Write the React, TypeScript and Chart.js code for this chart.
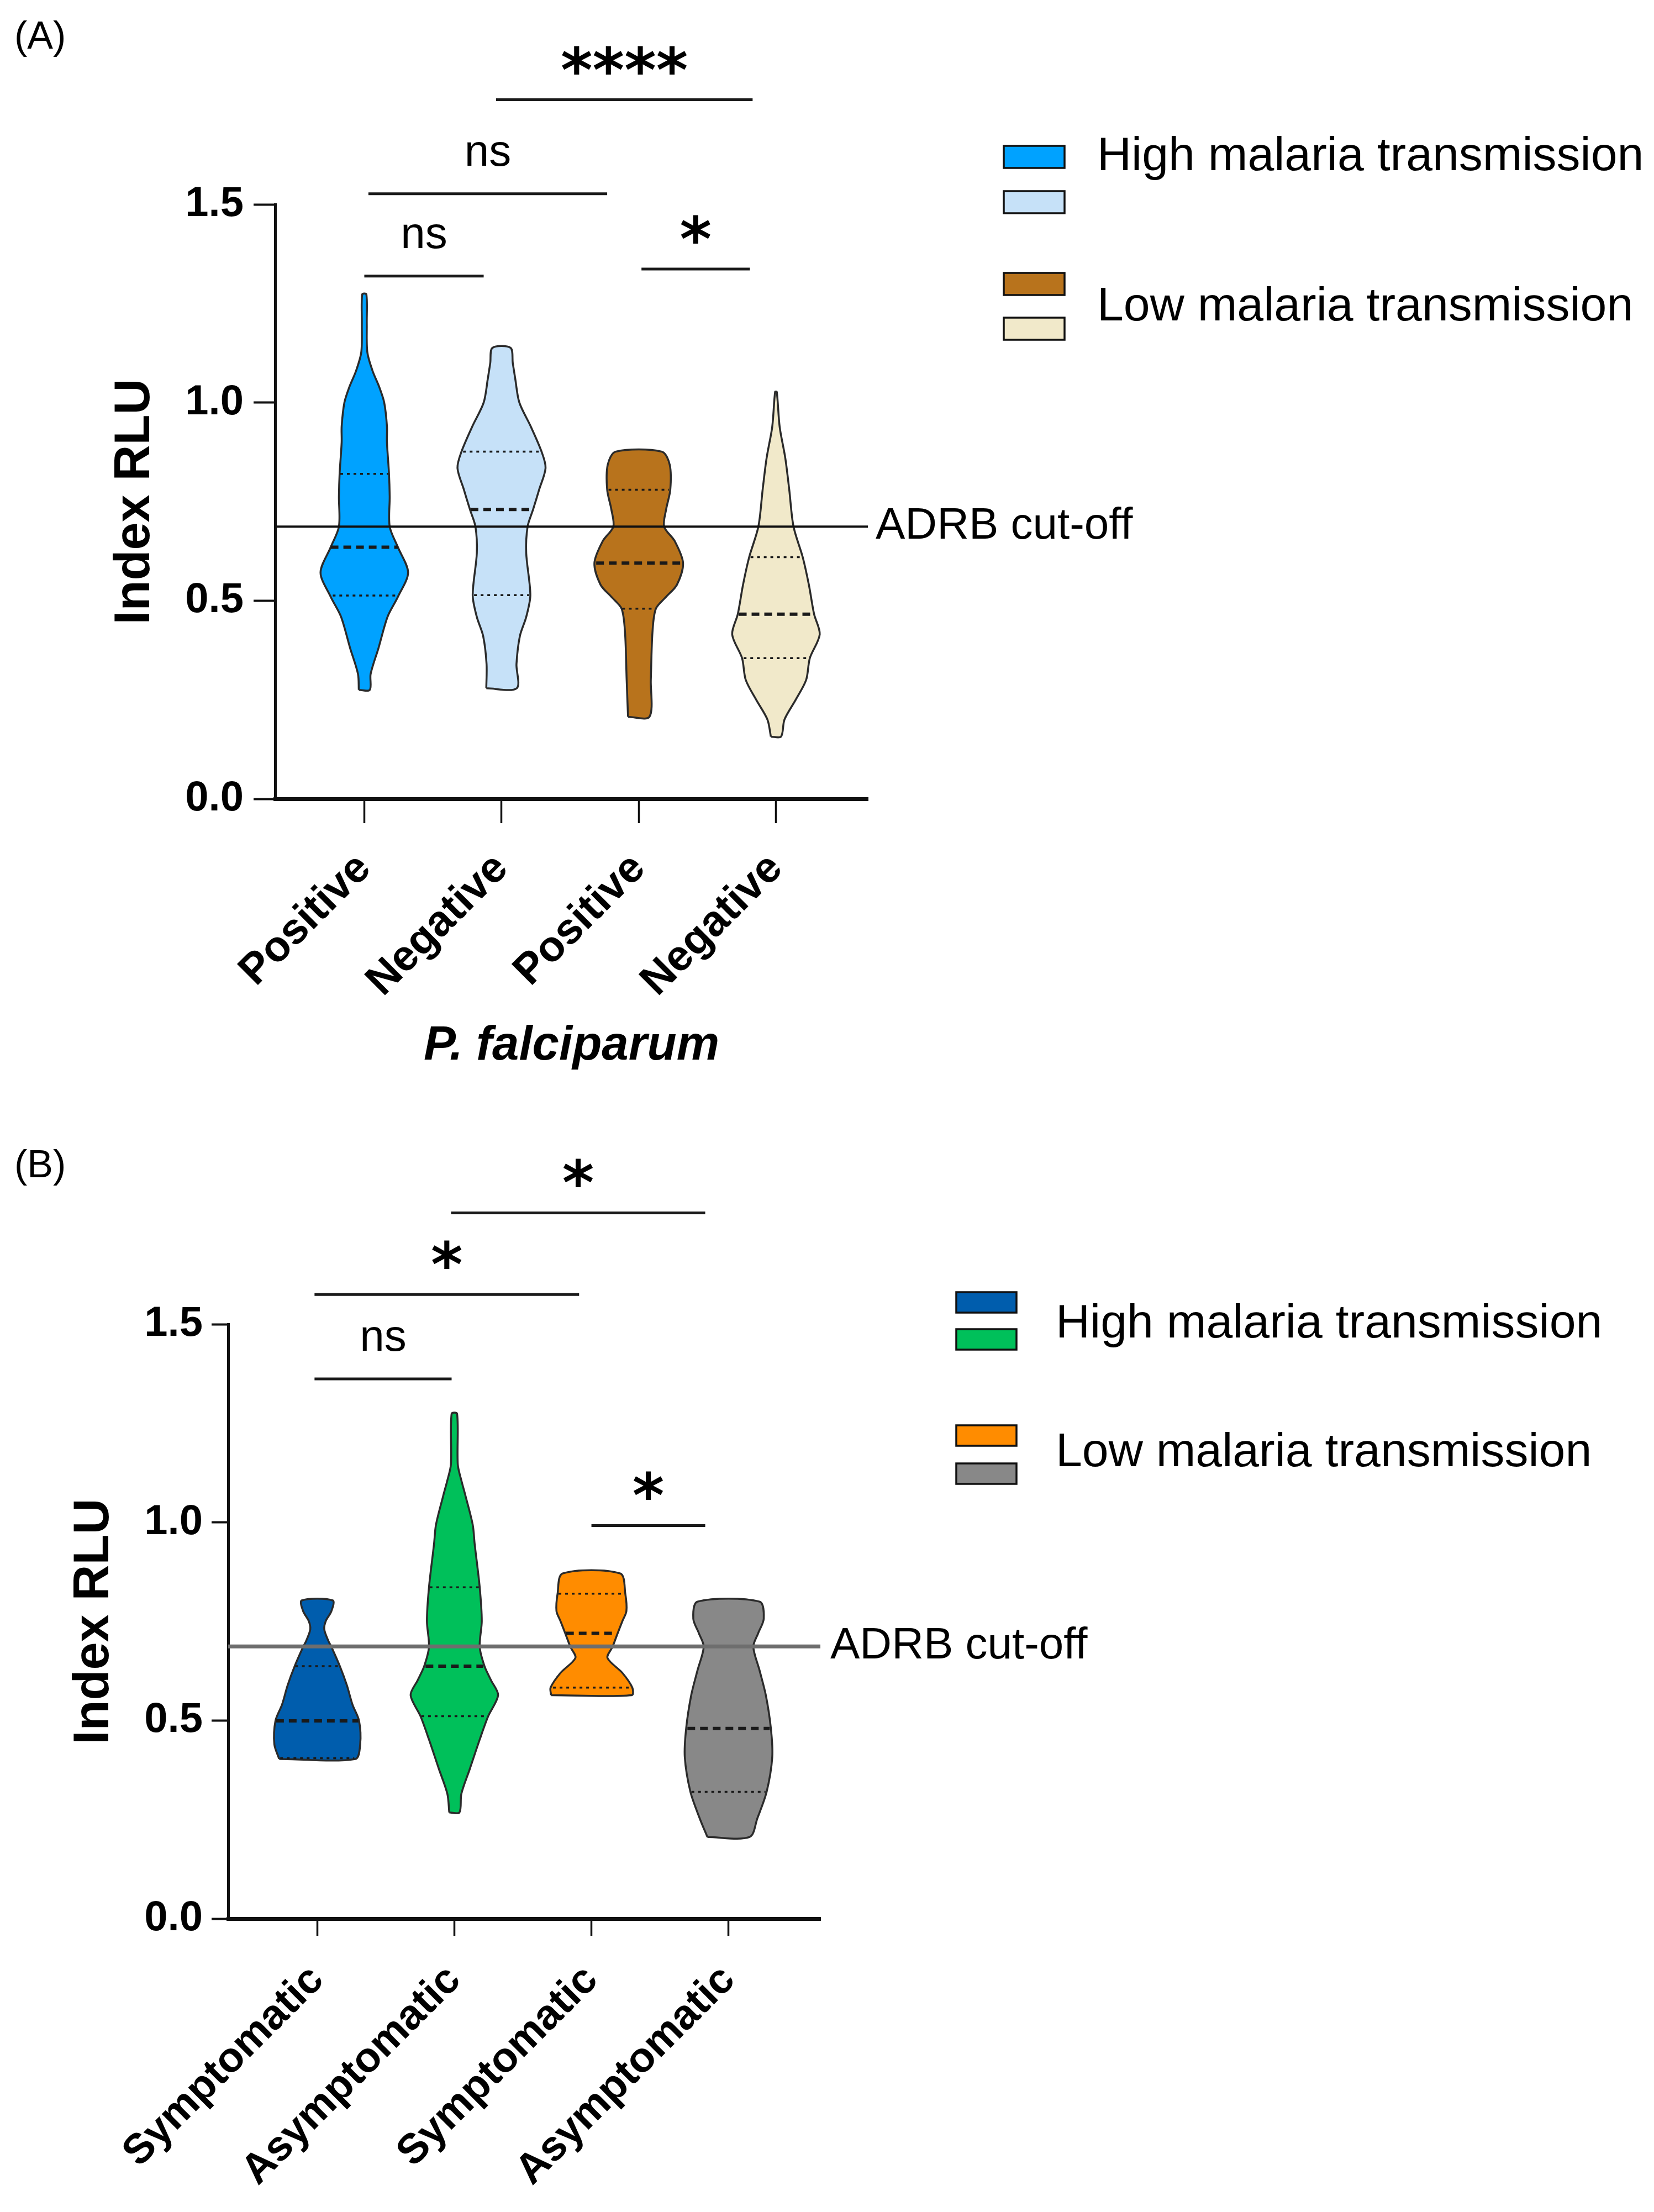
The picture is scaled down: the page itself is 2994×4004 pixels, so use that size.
import React, { useEffect, useRef } from 'react';
import { Chart, registerables } from 'chart.js';

Chart.register(...registerables);

const FONT = '"Liberation Sans", Arial, Helvetica, sans-serif';
const STAR_FONT = '"DejaVu Sans", sans-serif';

const X_MIN = 0.35;
const X_MAX = 4.67;
const CUTOFF = 0.687;
const yTickValues = [0, 0.5, 1.0, 1.5];
const legendLabels = ['High malaria transmission', 'Low malaria transmission'];

// ---------------- Panel A (P. falciparum) ----------------
const categoriesA = ['Positive', 'Negative', 'Positive', 'Negative'];
const colorsA = ['#00A2FF', '#C6E1F8', '#B8731C', '#F1E9CA'];

const aPosHighLevels = [0.275, 0.315, 0.38, 0.46, 0.51, 0.571, 0.635, 0.687, 0.763, 0.82, 0.9, 0.94, 1.0, 1.04, 1.08, 1.127, 1.2, 1.273];
const aPosHighHalf = [0.04, 0.046, 0.103, 0.17, 0.245, 0.319, 0.245, 0.185, 0.185, 0.18, 0.165, 0.165, 0.145, 0.108, 0.06, 0.022, 0.018, 0.015];

const aNegHighLevels = [0.279, 0.34, 0.411, 0.459, 0.514, 0.62, 0.687, 0.73, 0.78, 0.835, 0.876, 0.939, 1.0, 1.06, 1.1, 1.138];
const aNegHighHalf = [0.111, 0.109, 0.134, 0.18, 0.21, 0.18, 0.19, 0.23, 0.274, 0.321, 0.292, 0.214, 0.13, 0.1, 0.082, 0.066];

const aPosLowLevels = [0.207, 0.3, 0.42, 0.48, 0.51, 0.54, 0.595, 0.65, 0.687, 0.731, 0.78, 0.843, 0.876];
const aPosLowHalf = [0.078, 0.088, 0.1, 0.125, 0.2, 0.278, 0.323, 0.263, 0.185, 0.2, 0.23, 0.226, 0.169];

const aNegLowLevels = [0.157, 0.2, 0.25, 0.3, 0.355, 0.415, 0.466, 0.54, 0.61, 0.687, 0.78, 0.86, 0.939, 1.027];
const aNegLowHalf = [0.037, 0.062, 0.144, 0.22, 0.247, 0.319, 0.278, 0.24, 0.195, 0.128, 0.097, 0.068, 0.027, 0.006];

const q1A = [0.513, 0.514, 0.48, 0.355];
const q1HalfA = [0.23, 0.2, 0.12, 0.235];
const medianA = [0.635, 0.73, 0.595, 0.466];
const medianHalfA = [0.245, 0.225, 0.31, 0.27];
const q3A = [0.82, 0.876, 0.78, 0.61];
const q3HalfA = [0.175, 0.28, 0.22, 0.185];

const sigStartA = [1.96, 1.03, 1.0, 3.02];
const sigEndA = [3.83, 2.77, 1.87, 3.81];
const sigLevelA = [1.764, 1.527, 1.319, 1.337];
const sigLabelA = ['****', 'ns', 'ns', '*'];

// ---------------- Panel B (symptoms) ----------------
const categoriesB = ['Symptomatic', 'Asymptomatic', 'Symptomatic', 'Asymptomatic'];
const colorsB = ['#005DAD', '#00C05A', '#FF8C00', '#888888'];

const bSymHighLevels = [0.403, 0.44, 0.499, 0.54, 0.589, 0.637, 0.686, 0.7, 0.73, 0.751, 0.776, 0.803];
const bSymHighHalf = [0.278, 0.313, 0.305, 0.257, 0.216, 0.165, 0.103, 0.082, 0.051, 0.062, 0.103, 0.113];

const bAsyHighLevels = [0.268, 0.315, 0.378, 0.452, 0.511, 0.564, 0.602, 0.637, 0.686, 0.751, 0.836, 0.946, 0.994, 1.066, 1.106, 1.146, 1.274];
const bAsyHighHalf = [0.037, 0.051, 0.113, 0.185, 0.247, 0.319, 0.267, 0.22, 0.185, 0.2, 0.185, 0.148, 0.134, 0.082, 0.051, 0.025, 0.02];

const bSymLowLevels = [0.564, 0.583, 0.62, 0.658, 0.686, 0.72, 0.751, 0.776, 0.82, 0.871];
const bSymLowHalf = [0.294, 0.298, 0.226, 0.117, 0.154, 0.191, 0.226, 0.255, 0.247, 0.21];

const bAsyLowLevels = [0.206, 0.253, 0.32, 0.408, 0.48, 0.564, 0.627, 0.686, 0.72, 0.757, 0.8];
const bAsyLowHalf = [0.154, 0.21, 0.278, 0.319, 0.309, 0.272, 0.226, 0.181, 0.216, 0.257, 0.226];

const q1B = [0.405, 0.511, 0.583, 0.32];
const q1HalfB = [0.27, 0.24, 0.28, 0.27];
const medianB = [0.499, 0.637, 0.72, 0.48];
const medianHalfB = [0.3, 0.21, 0.185, 0.3];
const q3B = [0.637, 0.836, 0.82, 0.686];
const q3HalfB = [0.16, 0.18, 0.24, 0.17];

const sigStartB = [1.976, 0.98, 0.98, 3.0];
const sigEndB = [3.83, 2.91, 1.98, 3.83];
const sigLevelB = [1.781, 1.575, 1.362, 0.992];
const sigLabelB = ['*', '*', 'ns', '*'];

type Pt = { x: number; y: number };

function violinPolygon(center: number, levels: number[], half: number[]): Pt[] {
  const left = levels.map((y, i) => ({ x: center - half[i], y }));
  const right = levels.map((y, i) => ({ x: center + half[i], y })).reverse();
  return [...left, ...right, left[0]];
}

interface PanelSpec {
  top: number;
  height: number;
  label: string;
  labelY: number;
  categories: string[];
  colors: string[];
  levels: number[][];
  halves: number[][];
  q1: number[]; q1Half: number[];
  med: number[]; medHalf: number[];
  q3: number[]; q3Half: number[];
  sigStart: number[]; sigEnd: number[]; sigLevel: number[]; sigLabel: string[];
  cutoffColor: string; cutoffWidth: number; cutoffGap: number;
  yAxisWidth: number; xAxisHeight: number; padTop: number; padRight: number;
  yTitlePad: number; yTickLen: number; yTickPad: number;
  xTickLen: number; xTickPad: number; xTickSize: number;
  xTitle?: string;
  legendX: number; legendW: number; legendH: number; legendSwatchY: number[];
  legendTextX: number; legendTextY: number[];
}

function decorPlugin(spec: PanelSpec) {
  return {
    id: 'decor',
    afterDraw(chart: any) {
      const { ctx, chartArea } = chart;
      const xs = chart.scales.x;
      const ys = chart.scales.y;
      ctx.save();
      ctx.fillStyle = '#000';
      // cut-off label
      ctx.font = `80px ${FONT}`;
      ctx.textAlign = 'left';
      ctx.textBaseline = 'middle';
      ctx.fillText('ADRB cut-off', chartArea.right + spec.cutoffGap, ys.getPixelForValue(CUTOFF));

      // significance bars
      ctx.strokeStyle = '#1a1a1a';
      ctx.lineWidth = 5;
      spec.sigLabel.forEach((lab, i) => {
        const x1 = xs.getPixelForValue(spec.sigStart[i]);
        const x2 = xs.getPixelForValue(spec.sigEnd[i]);
        const y = ys.getPixelForValue(spec.sigLevel[i]);
        ctx.beginPath();
        ctx.moveTo(x1, y);
        ctx.lineTo(x2, y);
        ctx.stroke();
        const isStar = lab.includes('*');
        ctx.font = isStar ? `bold 110px ${STAR_FONT}` : `80px ${FONT}`;
        ctx.textAlign = 'center';
        ctx.textBaseline = 'alphabetic';
        const m = ctx.measureText(lab);
        const cy = y - 72;
        const base = cy + (m.actualBoundingBoxAscent - m.actualBoundingBoxDescent) / 2;
        ctx.fillText(lab, (x1 + x2) / 2, base);
      });

      // legend
      spec.legendSwatchY.forEach((y, i) => {
        ctx.fillStyle = spec.colors[i];
        ctx.fillRect(spec.legendX, y, spec.legendW, spec.legendH);
        ctx.strokeStyle = '#111';
        ctx.lineWidth = 3.5;
        ctx.strokeRect(spec.legendX, y, spec.legendW, spec.legendH);
      });
      ctx.fillStyle = '#000';
      ctx.font = `86px ${FONT}`;
      ctx.textAlign = 'left';
      ctx.textBaseline = 'middle';
      legendLabels.forEach((t, i) => ctx.fillText(t, spec.legendTextX, spec.legendTextY[i]));

      // panel label
      ctx.font = `70px ${FONT}`;
      ctx.fillText(spec.label, 26, spec.labelY);
      ctx.restore();
    },
  };
}

function Panel({ spec }: { spec: PanelSpec }) {
  const ref = useRef<HTMLCanvasElement>(null);
  useEffect(() => {
    const canvas = ref.current;
    if (!canvas) return;
    const datasets: any[] = [];
    spec.levels.forEach((lv, i) => {
      const c = i + 1;
      datasets.push({
        type: 'line',
        data: violinPolygon(c, lv, spec.halves[i]),
        backgroundColor: spec.colors[i],
        borderColor: '#2b2b2b',
        borderWidth: 3.5,
        fill: 'shape',
        tension: 0.3,
        pointRadius: 0,
        order: 3,
      });
      const qLine = (v: number, h: number, dash: number[], w: number) => ({
        type: 'line',
        data: [{ x: c - h, y: v }, { x: c + h, y: v }],
        borderColor: '#1a1a1a',
        borderWidth: w,
        borderDash: dash,
        fill: false,
        pointRadius: 0,
        order: 2,
      });
      datasets.push(qLine(spec.q1[i], spec.q1Half[i], [5, 7], 3.5));
      datasets.push(qLine(spec.q3[i], spec.q3Half[i], [5, 7], 3.5));
      datasets.push(qLine(spec.med[i], spec.medHalf[i], [14, 9], 6));
    });
    datasets.push({
      type: 'line',
      data: [{ x: X_MIN, y: CUTOFF }, { x: X_MAX, y: CUTOFF }],
      borderColor: spec.cutoffColor,
      borderWidth: spec.cutoffWidth,
      fill: false,
      pointRadius: 0,
      order: 1,
    });

    const chart = new Chart(canvas, {
      type: 'line',
      data: { datasets },
      options: {
        responsive: false,
        animation: false,
        devicePixelRatio: 1,
        events: [],
        layout: { padding: { left: 0, top: spec.padTop, right: spec.padRight, bottom: 0 } },
        plugins: { legend: { display: false }, tooltip: { enabled: false } },
        scales: {
          x: {
            type: 'linear',
            min: X_MIN,
            max: X_MAX,
            afterBuildTicks: (s: any) => {
              s.ticks = spec.categories.map((_, i) => ({ value: i + 1 }));
            },
            afterFit: (s: any) => {
              s.height = spec.xAxisHeight;
            },
            ticks: {
              autoSkip: false,
              minRotation: 45,
              maxRotation: 45,
              padding: spec.xTickPad,
              color: '#000',
              font: { family: FONT, size: spec.xTickSize, weight: 'bold' },
              callback: (v: any) => spec.categories[Math.round(Number(v)) - 1] ?? '',
            },
            grid: { drawOnChartArea: false, drawTicks: true, tickLength: spec.xTickLen, tickWidth: 3.5, tickColor: '#111' },
            border: { display: true, color: '#111', width: 7 },
            title: spec.xTitle
              ? {
                  display: true,
                  text: spec.xTitle,
                  color: '#000',
                  font: { family: FONT, size: 87, weight: 'bold', style: 'italic' },
                  padding: { top: 0, bottom: 54 },
                }
              : { display: false },
          },
          y: {
            type: 'linear',
            min: 0,
            max: 1.5,
            afterBuildTicks: (s: any) => {
              s.ticks = yTickValues.map((v) => ({ value: v }));
            },
            afterFit: (s: any) => {
              s.width = spec.yAxisWidth;
            },
            ticks: {
              padding: spec.yTickPad,
              color: '#000',
              font: { family: FONT, size: 76, weight: 'bold' },
              callback: (v: any) => Number(v).toFixed(1),
            },
            grid: { drawOnChartArea: false, drawTicks: true, tickLength: spec.yTickLen, tickWidth: 4, tickColor: '#111' },
            border: { display: true, color: '#111', width: 5 },
            title: {
              display: true,
              text: 'Index RLU',
              color: '#000',
              font: { family: FONT, size: 90, weight: 'bold' },
              padding: { top: spec.yTitlePad, bottom: 0 },
            },
          },
        },
      } as any,
      plugins: [decorPlugin(spec)],
    });
    return () => chart.destroy();
  }, [spec]);
  return (
    <canvas
      ref={ref}
      width={2994}
      height={spec.height}
      style={{ position: 'absolute', left: 0, top: spec.top, width: 2994, height: spec.height, display: 'block' }}
    />
  );
}

const specA: PanelSpec = {
  top: 0,
  height: 2000,
  label: '(A)',
  labelY: 69,
  categories: categoriesA,
  colors: colorsA,
  levels: [aPosHighLevels, aNegHighLevels, aPosLowLevels, aNegLowLevels],
  halves: [aPosHighHalf, aNegHighHalf, aPosLowHalf, aNegLowHalf],
  q1: q1A, q1Half: q1HalfA, med: medianA, medHalf: medianHalfA, q3: q3A, q3Half: q3HalfA,
  sigStart: sigStartA, sigEnd: sigEndA, sigLevel: sigLevelA, sigLabel: sigLabelA,
  cutoffColor: '#111', cutoffWidth: 4, cutoffGap: 14,
  yAxisWidth: 498, xAxisHeight: 554, padTop: 370, padRight: 2994 - 1571,
  yTitlePad: 191, yTickLen: 39, yTickPad: 18,
  xTickLen: 44, xTickPad: 37, xTickSize: 78,
  xTitle: 'P. falciparum',
  legendX: 1817, legendW: 110, legendH: 40, legendSwatchY: [264, 346, 494, 575],
  legendTextX: 1986, legendTextY: [284, 556],
};

const specB: PanelSpec = {
  top: 2000,
  height: 2004,
  label: '(B)',
  labelY: 112,
  categories: categoriesB,
  colors: colorsB,
  levels: [bSymHighLevels, bAsyHighLevels, bSymLowLevels, bAsyLowLevels],
  halves: [bSymHighHalf, bAsyHighHalf, bSymLowHalf, bAsyLowHalf],
  q1: q1B, q1Half: q1HalfB, med: medianB, medHalf: medianHalfB, q3: q3B, q3Half: q3HalfB,
  sigStart: sigStartB, sigEnd: sigEndB, sigLevel: sigLevelB, sigLabel: sigLabelB,
  cutoffColor: '#6e6e6e', cutoffWidth: 7, cutoffGap: 18,
  yAxisWidth: 413, xAxisHeight: 531, padTop: 397, padRight: 2994 - 1485,
  yTitlePad: 117, yTickLen: 30, yTickPad: 16,
  xTickLen: 31, xTickPad: 36, xTickSize: 76,
  legendX: 1731, legendW: 109, legendH: 37, legendSwatchY: [339, 406, 580, 649],
  legendTextX: 1911, legendTextY: [397, 630],
};

export default function App() {
  return (
    <div style={{ position: 'absolute', left: 0, top: 0, width: 2994, height: 4004, background: '#fff', overflow: 'hidden' }}>
      <Panel spec={specA} />
      <Panel spec={specB} />
    </div>
  );
}
